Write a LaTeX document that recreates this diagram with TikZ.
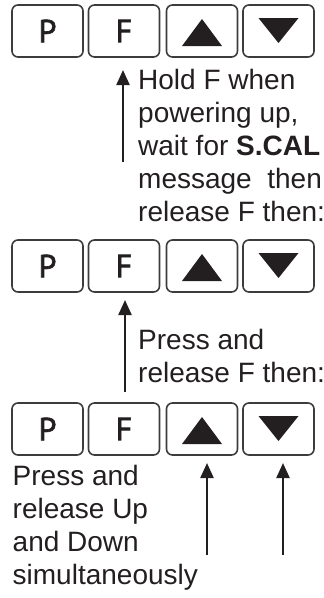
\documentclass[tikz,border=0pt]{standalone}
\usepackage{fontspec}
\setmainfont{Liberation Sans}
\newfontfamily\keyfont[FakeBold=2]{PT Sans}
\usetikzlibrary{arrows.meta}
\definecolor{ink}{HTML}{231F20}
\definecolor{frame}{HTML}{3C3C3C}
\begin{document}
\begin{tikzpicture}[x=1pt,y=-1pt,
  key/.style={draw=frame, line width=1.6pt, rounded corners=6pt, minimum width=71pt, minimum height=52pt, inner sep=0pt, font=\fontsize{32}{32}\selectfont\keyfont, text=ink},
  txt/.style={anchor=base west, inner sep=0pt, text=ink, font=\fontsize{28}{33}\selectfont},
  arr/.style={draw=ink, line width=2.2pt, -{Triangle[length=15pt,width=13pt]}},
  tri/.style={fill=ink}]
\useasboundingbox (0,0) rectangle (324,598);
\foreach \r/\y in {1/31,2/266,3/429}{
  \node[key] (P\r) at (47.5,\y) {P};
  \node[key] (F\r) at (124,\y) {F};
  \node[key] (U\r) at (202,\y) {};
  \node[key] (D\r) at (278.5,\y) {};
  \fill[tri] ([shift={(-20,15)}]U\r.center) -- ([shift={(20,15)}]U\r.center) -- ([shift={(0,-12)}]U\r.center) -- cycle;
  \fill[tri] ([shift={(-20,-13)}]D\r.center) -- ([shift={(20,-13)}]D\r.center) -- ([shift={(0,12)}]D\r.center) -- cycle;
}
% text block 1
\node[txt] (h1) at (138,89) {Hold F when};
\node[txt] (h2) at (138,122) {powering up,};
\node[txt] (h3) at (138,155) {wait for {\bfseries S.CAL}};
\node[txt] (h4) at (138,188) {message\ \ then};
\node[txt] (h5) at (138,221) {release F then:};
% text block 2
\node[txt] (p1) at (138,349) {Press and};
\node[txt] (p2) at (138,382) {release F then:};
% text block 3
\node[txt] (q1) at (12.5,485) {Press and};
\node[txt] (q2) at (12.5,518) {release Up};
\node[txt] (q3) at (12.5,551) {and Down};
\node[txt] (q4) at (12.5,584) {simultaneously};
% arrows
\coordinate (a1s) at (123,162); \coordinate (a1e) at (123,70);
\coordinate (a2s) at (125,392); \coordinate (a2e) at (125,300);
\coordinate (a3s) at (207,555); \coordinate (a3e) at (207,463);
\coordinate (a4s) at (283,555); \coordinate (a4e) at (283,463);
\draw[arr] (a1s) -- (a1e);
\draw[arr] (a2s) -- (a2e);
\draw[arr] (a3s) -- (a3e);
\draw[arr] (a4s) -- (a4e);
\end{tikzpicture}
\end{document}
